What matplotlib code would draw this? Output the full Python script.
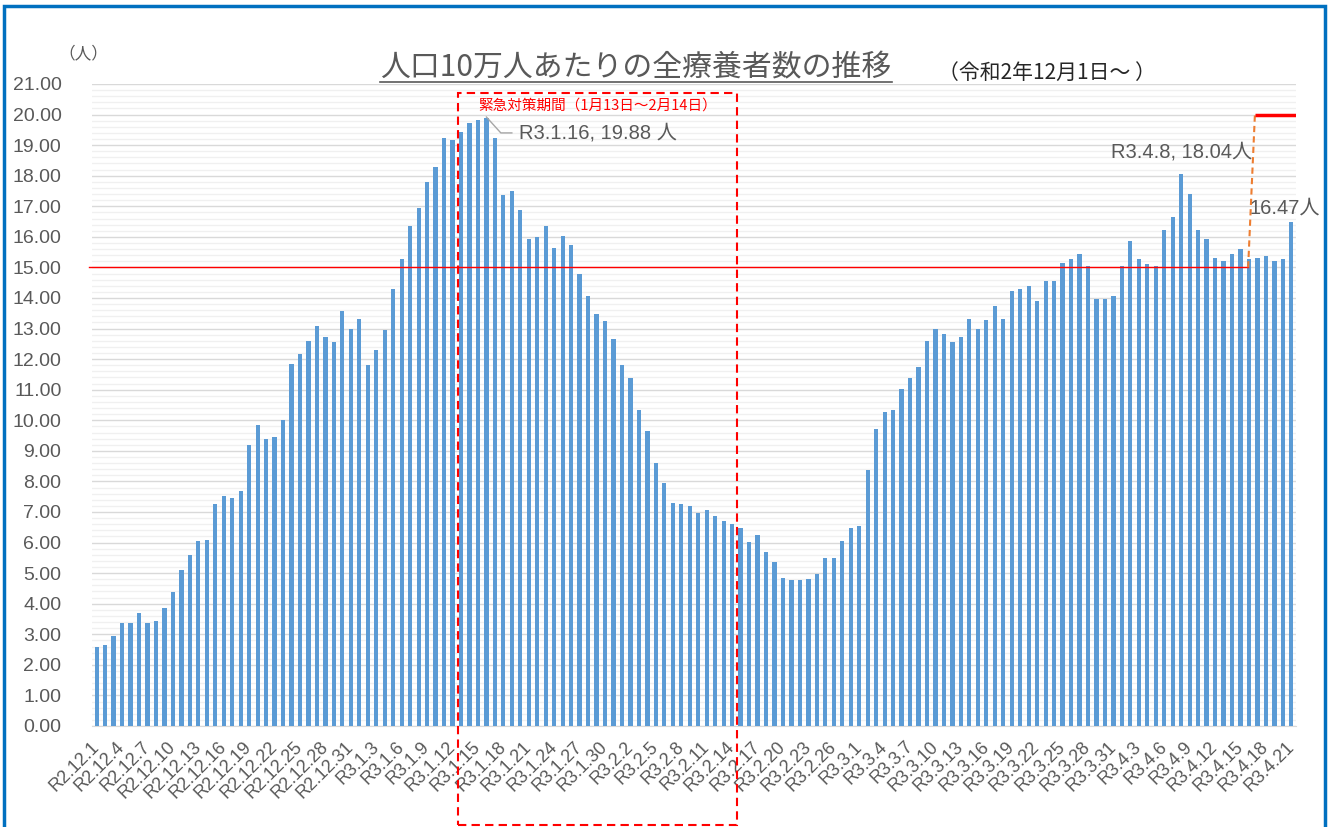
import matplotlib
matplotlib.use("Agg")
import matplotlib.pyplot as plt
from matplotlib.patches import Rectangle
from matplotlib.lines import Line2D
import numpy as np
import pandas as pd

plt.rcParams['font.family'] = ['Liberation Sans', 'Noto Sans CJK JP']

# 人口10万人あたりの全療養者数 (R2.12.1 ~ R3.4.21)
start_date = "2020-12-01"
values = [
    2.58, 2.64, 2.93, 3.38, 3.38, 3.71, 3.38, 3.45, 3.85, 4.39,
    5.09, 5.58, 6.06, 6.10, 7.25, 7.52, 7.47, 7.69, 9.20, 9.84,
    9.40, 9.46, 10.02, 11.85, 12.17, 12.59, 13.10, 12.72, 12.57, 13.58,
    12.98, 13.32, 11.80, 12.29, 12.94, 14.30, 15.28, 16.35,
    16.95, 17.81, 18.30, 19.22, 19.17, 19.43, 19.72, 19.81, 19.88, 19.22,
    17.38, 17.49, 16.88, 15.92, 15.98, 16.35, 15.65, 16.02, 15.73, 14.77,
    14.07, 13.47, 13.25, 12.66, 11.80, 11.37, 10.33, 9.64, 8.59, 7.95,
    7.30, 7.25, 7.19, 6.98, 7.08, 6.87, 6.71, 6.60, 6.49, 6.01,
    6.26, 5.68, 5.35, 4.85, 4.76, 4.76, 4.80, 4.96, 5.51, 5.51,
    6.05, 6.49, 6.53, 8.39, 9.73, 10.27, 10.33, 11.03, 11.37, 11.74,
    12.59, 12.98, 12.83, 12.57, 12.72, 13.32, 12.98, 13.27, 13.74, 13.32,
    14.24, 14.30, 14.40,
    13.91, 14.56, 14.56, 15.15, 15.28, 15.44, 15.04, 13.97, 13.97, 14.07,
    15.04, 15.87, 15.28, 15.10, 15.04, 16.24, 16.66, 18.04, 17.39, 16.21,
    15.92, 15.32, 15.22, 15.44, 15.59, 15.28, 15.32, 15.37, 15.22, 15.28,
    16.47,
]
threshold_old = 15.0
threshold_new = 20.0
threshold_change = 136.3      # bar position where the line steps up
emergency_start = 42.6        # 1月13日
emergency_end = 75.6          # 2月14日

dates = pd.date_range(start_date, periods=len(values))
labels = ["R%d.%d.%d" % (d.year - 2018, d.month, d.day) for d in dates]
x = np.arange(len(values))

text_col = "#595959"
bar_col = "#5B9BD5"

fig = plt.figure(figsize=(13.33, 8.27), dpi=100)
ax = fig.add_axes([92 / 1333, 1 - 726 / 827, (1296 - 92) / 1333, (726 - 84) / 827])

ax.bar(x, values, width=0.5, color=bar_col, zorder=3)

ax.set_xlim(-0.55, len(values) - 0.45)
ax.set_ylim(0, 21)
ax.set_yticks(np.arange(0, 21.01, 1))
ax.set_yticks(np.arange(0, 21.01, 0.2), minor=True)
ax.yaxis.set_major_formatter(plt.FuncFormatter(lambda v, p: "%.2f" % v))
ax.grid(axis='y', which='major', color='#d9d9d9', lw=1, zorder=0)
ax.grid(axis='y', which='minor', color='#f0f0f0', lw=1, zorder=0)
ax.tick_params(axis='y', which='both', length=0, labelsize=14, labelcolor=text_col, pad=22)

ax.set_xticks(x[::3])
ax.set_xticklabels(labels[::3], rotation=45, ha='right', va='center',
                   rotation_mode='anchor', fontsize=13, color=text_col)
ax.tick_params(axis='x', length=0, pad=13)

for s in ['top', 'right', 'left']:
    ax.spines[s].set_visible(False)
ax.spines['bottom'].set_color('#d9d9d9')

# 基準線 15 -> 20
ax.plot([-0.9, threshold_change - 0.4], [threshold_old, threshold_old], color='#FF0000', lw=1,
        zorder=4, clip_on=False)
ax.plot([threshold_change - 0.4, threshold_change + 0.4], [threshold_old, threshold_new],
        color='#ED7D31', lw=1.5, ls=(0, (3, 2)), zorder=4)
ax.plot([threshold_change + 0.4, len(values) - 0.45], [threshold_new, threshold_new],
        color='#FF0000', lw=2.5, zorder=4, solid_capstyle='butt')

# 緊急対策期間
ax.add_patch(Rectangle((emergency_start, -3.24), emergency_end - emergency_start, 20.72 + 3.24,
                       fill=False, edgecolor='#FF0000', lw=1.5, ls=(0, (4, 2.5)),
                       clip_on=False, zorder=5))
ax.text((emergency_start + emergency_end) / 2, 20.3, "緊急対策期間（1月13日～2月14日）",
        ha='center', va='center', fontsize=10.5, color='#FF0000',
        family=['Noto Sans CJK JP'])

# ピーク注記
i1 = int(np.argmax(values[:100]))
ax.plot([i1, i1 + 1.7, i1 + 3.0], [values[i1] + 0.04, 19.4, 19.4], color='#a6a6a6', lw=1, zorder=5)
ax.text(i1 + 3.9, 19.4, "%s, %.2f 人" % (labels[i1], values[i1]), ha='left', va='center',
        fontsize=14.5, color=text_col)

i2 = 100 + int(np.argmax(values[100:]))
ax.text(i2, 18.78, "%s, %.2f人" % (labels[i2], values[i2]), ha='center', va='center',
        fontsize=14.5, color=text_col, zorder=6)

ax.text(len(values) - 1.8, 16.94, "%.2f人" % values[-1], ha='center', va='center',
        fontsize=14.5, color=text_col, zorder=6)

# タイトル等
title = fig.text(636 / 1333, 1 - 68 / 827, "人口10万人あたりの全療養者数の推移", ha='center',
                 va='center', fontsize=21.5, color=text_col, family=['Noto Sans CJK JP'])
fig.text(1047 / 1333, 1 - 73 / 827, "（令和2年12月1日～ ）", ha='center', va='center',
         fontsize=15, color='#262626', family=['Noto Sans CJK JP'])
fig.text(83 / 1333, 1 - 54 / 827, "（人）", ha='center', va='center', fontsize=12,
         color=text_col, family=['Noto Sans CJK JP'])

fig.canvas.draw()
bb = title.get_window_extent()
fig.add_artist(Line2D([bb.x0 / fig.bbox.width, bb.x1 / fig.bbox.width],
                      [1 - 82 / 827, 1 - 82 / 827], color=text_col, lw=1.2))

# 外枠
fig.add_artist(Rectangle((4 / 1333, -0.05), (1325 - 4) / 1333, 1.05 - 6 / 827,
                         fill=False, edgecolor='#0070C0', lw=2.5, transform=fig.transFigure))

fig.savefig("out.png", dpi=100)
